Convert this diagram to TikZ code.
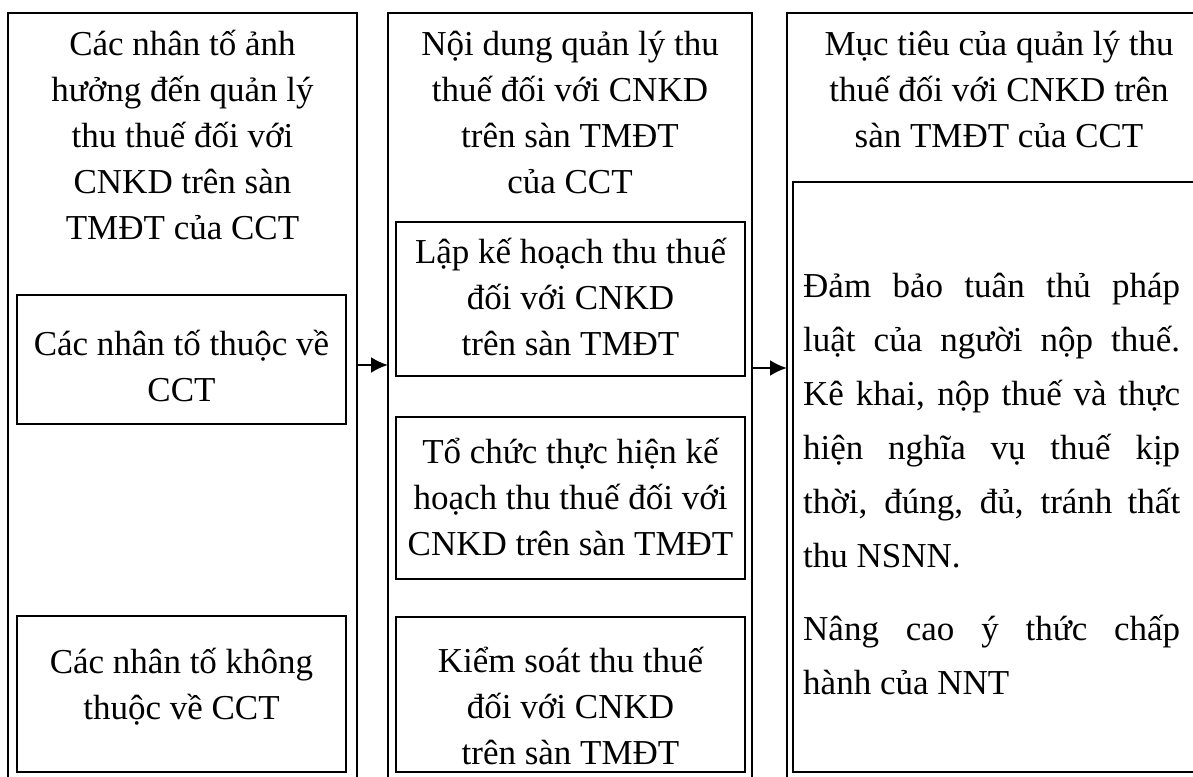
\documentclass[tikz,border=0pt]{standalone}
\usepackage{fontspec}
\setmainfont{Liberation Serif}
\usetikzlibrary{arrows.meta}
\tikzset{
  box/.style={draw, line width=2.6pt, outer sep=0pt, inner sep=0pt, anchor=north west},
  txt/.style={font=\fontsize{35}{46}\selectfont, align=center, inner sep=0pt, anchor=north},
  para/.style={font=\fontsize{35}{54}\selectfont, text width=377pt, align=justify, inner sep=0pt, anchor=north west},
  arr/.style={line width=2.4pt, -{Latex[length=17pt,width=16pt]}}
}
\begin{document}
\begin{tikzpicture}[x=1pt,y=-1pt]
\clip (0,0) rectangle (1193,776);
\fill[white] (0,0) rectangle (1193,776);
% outer columns
\node[box, minimum width=349pt, minimum height=787pt] (L) at (8,13) {};
\node[box, minimum width=364pt, minimum height=787pt] (M) at (388,13) {};
\node[box, minimum width=450pt, minimum height=787pt] (R) at (787,13) {};
% inner boxes
\node[box, minimum width=329pt, minimum height=129pt] (L1) at (17,295) {};
\node[box, minimum width=329pt, minimum height=156pt] (L2) at (17,616) {};
\node[box, minimum width=349pt, minimum height=154pt] (M1) at (396,222) {};
\node[box, minimum width=349pt, minimum height=162pt] (M2) at (396,417) {};
\node[box, minimum width=349pt, minimum height=155pt] (M3) at (396,617) {};
\node[box, minimum width=450pt, minimum height=590pt] (R1) at (793,182) {};
% texts
\node[txt] (tL) at (182.5,22.8) {\strut Các nhân tố ảnh\\hưởng đến quản lý\\thu thuế đối với\\CNKD trên sàn\\TMĐT của CCT};
\node[txt] (tL1) at (181.5,322.8) {\strut Các nhân tố thuộc về\\CCT};
\node[txt] (tL2) at (181.5,641) {\strut Các nhân tố không\\thuộc về CCT};
\node[txt] (tM) at (570,22.8) {\strut Nội dung quản lý thu\\thuế đối với CNKD\\trên sàn TMĐT\\của CCT};
\node[txt] (tM1) at (570.5,231.5) {\strut Lập kế hoạch thu thuế\\đối với CNKD\\trên sàn TMĐT};
\node[txt] (tM2) at (570.5,431.5) {\strut Tổ chức thực hiện kế\\hoạch thu thuế đối với\\CNKD trên sàn TMĐT};
\node[txt] (tM3) at (570.5,640) {\strut Kiểm soát thu thuế\\đối với CNKD\\trên sàn TMĐT};
\node[txt] (tR) at (999,22.8) {\strut Mục tiêu của quản lý thu\\thuế đối với CNKD trên\\sàn TMĐT của CCT};
\node[para] (tR1) at (803,259.2) {\strut Đảm bảo tuân thủ pháp\linebreak luật của người nộp thuế.\linebreak Kê khai, nộp thuế và thực\linebreak hiện nghĩa vụ thuế kịp\linebreak thời, đúng, đủ, tránh thất\linebreak thu NSNN.\par\vspace{19pt}Nâng cao ý thức chấp\linebreak hành của NNT};
% arrows
\coordinate (a1) at (0,365);
\coordinate (a2) at (0,368);
\draw[arr] (L.east |- a1) -- (M.west |- a1);
\draw[arr] (M.east |- a2) -- (R.west |- a2);
\end{tikzpicture}
\end{document}
